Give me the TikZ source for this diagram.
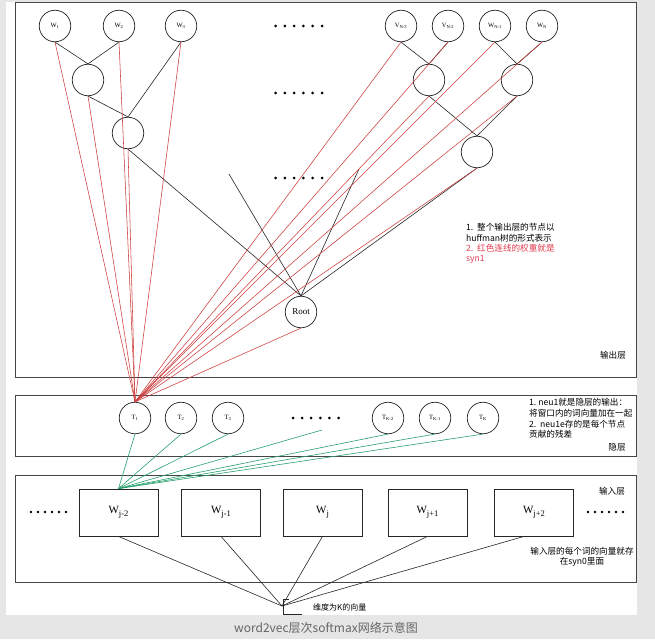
\documentclass[tikz,border=0pt]{standalone}
\usepackage{fontspec}
\setmainfont{Liberation Serif}
\newfontfamily\cjk{Noto Sans CJK SC}
\definecolor{redline}{RGB}{205,60,60}
\definecolor{greenline}{RGB}{40,160,110}
\definecolor{boxline}{RGB}{70,70,70}
\definecolor{redtext}{RGB}{225,60,80}
\definecolor{bgc}{RGB}{230,230,230}
\definecolor{capc}{RGB}{100,100,100}
\begin{document}
\begin{tikzpicture}[x=1pt,y=-1pt,
  nd/.style={circle,draw=black!85,line width=0.7pt,minimum size=31.5pt,inner sep=0pt,font=\fontsize{6.5}{7}\selectfont},
  inbox/.style={draw=black!85,line width=0.8pt,minimum width=79pt,minimum height=47pt,inner sep=0pt,font=\fontsize{11}{12}\selectfont},
  layer/.style={draw=boxline,line width=0.9pt},
  tree/.style={draw=black!85,line width=0.6pt},
  syn/.style={draw=redline,line width=0.55pt},
  hid/.style={draw=greenline,line width=0.6pt},
  ann/.style={font=\cjk\fontsize{8.6}{10.8}\selectfont,align=left,anchor=west,inner sep=0pt},
  lbl/.style={font=\cjk\fontsize{8.6}{10}\selectfont,inner sep=0pt}
]
\useasboundingbox (0,0) rectangle (655,639);
\fill[bgc] (0,0) rectangle (655,639);
\fill[white] (6,2) rectangle (637,615);

% layer boxes
\draw[layer] (15,2) rectangle (636,377);
\draw[layer] (15,395) rectangle (636,456);
\draw[layer] (15,475) rectangle (636,582);

% dots
\foreach \y in {26,93,178} {\foreach \i in {0,...,5} \fill (275.5+9.3*\i,\y) circle (1.5);}
\foreach \i in {0,...,5} \fill (293+9.1*\i,418) circle (1.5);
\foreach \i in {0,...,5} \fill (31+7*\i,512) circle (1.3);
\foreach \i in {0,...,5} \fill (588+7*\i,512) circle (1.3);

% output layer nodes
\node[nd] (W1) at (55,26) {W\textsubscript{1}};
\node[nd] (W2) at (119,26) {W\textsubscript{2}};
\node[nd] (W3) at (181,26) {W\textsubscript{3}};
\node[nd] (VN3) at (401,26) {V\textsubscript{N-3}};
\node[nd] (VN2) at (448,26) {V\textsubscript{N-2}};
\node[nd] (WN1) at (495,26) {W\textsubscript{N-1}};
\node[nd] (WN) at (542,26) {W\textsubscript{N}};
\node[nd] (A) at (88,80) {};
\node[nd] (B) at (128,133) {};
\node[nd] (C1) at (429,80) {};
\node[nd] (C2) at (517,80) {};
\node[nd] (C3) at (477,152) {};
\node[nd,font=\fontsize{9}{10}\selectfont] (Root) at (301,312) {Root};

% hidden layer nodes
\node[nd] (T1) at (135,418) {T\textsubscript{1}};
\node[nd] (T2) at (181,418) {T\textsubscript{2}};
\node[nd] (T3) at (228,418) {T\textsubscript{3}};
\node[nd] (TK2) at (388,418) {T\textsubscript{K-2}};
\node[nd] (TK1) at (435,418) {T\textsubscript{K-1}};
\node[nd] (TK) at (483,418) {T\textsubscript{K}};

% input boxes
\node[inbox] (Wm2) at (118.5,512.5) {W\raisebox{-3pt}{\fontsize{8.5}{9}\selectfont j-2}};
\node[inbox] (Wm1) at (221,512.5) {W\raisebox{-3pt}{\fontsize{8.5}{9}\selectfont j-1}};
\node[inbox] (W0) at (322.5,512.5) {W\raisebox{-3pt}{\fontsize{8.5}{9}\selectfont j}};
\node[inbox] (Wp1) at (427.5,512.5) {W\raisebox{-3pt}{\fontsize{8.5}{9}\selectfont j+1}};
\node[inbox] (Wp2) at (534,512.5) {W\raisebox{-3pt}{\fontsize{8.5}{9}\selectfont j+2}};

% coordinates
\coordinate (e1) at (229,174);
\coordinate (e2) at (359,169);
\coordinate (gd) at (322,430);
\coordinate (vec) at (282,606);

% tree edges
\draw[tree] (W1.south) -- (A.north);
\draw[tree] (W2.south) -- (A.north);
\draw[tree] (A.south) -- (B.north);
\draw[tree] (W3.south) -- (B.north);
\draw[tree] (VN3.south) -- (C1.north);
\draw[tree] (VN2.south) -- (C1.north);
\draw[tree] (WN1.south) -- (C2.north);
\draw[tree] (WN.south) -- (C2.north);
\draw[tree] (C1.south) -- (C3.north);
\draw[tree] (C2.south) -- (C3.north);
\draw[tree] (B.south) -- (Root.north);
\draw[tree] (e1) -- (Root.north);
\draw[tree] (e2) -- (Root.north);
\draw[tree] (C3.south) -- (Root.north);

% syn1 (red) edges
\foreach \n in {W1,A,W2,B,W3,VN3,VN2,WN1,WN,C1,C2,C3,Root}
  \draw[syn] (\n.south) -- (T1.north);

% hidden to input (green)
\foreach \n in {T1,T2,T3,TK2,TK1,TK}
  \draw[hid] (\n.south) -- (Wm2.north);
\draw[hid] (gd) -- (Wm2.north);

% input to vector
\draw[tree] (Wm2.south) -- (vec);
\draw[tree] (Wm1.south) -- (vec);
\draw[tree] (W0.south) -- (vec);
\draw[tree] (Wp1.south) -- (vec);
\draw[tree] ([xshift=-10pt]Wp2.south) -- (vec);
\draw[tree] (289,599) -- (283,599) -- (283,615);
\draw[tree] (283,614) -- (302,614);

% annotations
\node[ann] (a1) at (466,227) {1.\ \ 整个输出层的节点以};
\node[ann] (a2) at (466,238) {huffman树的形式表示};
\node[ann,text=redtext] (a3) at (466,248.5) {2.\ \ 红色连线的权重就是};
\node[ann,text=redtext] (a4) at (466,259.5) {syn1};
\node[lbl] (out) at (613,355) {输出层};

\node[ann] (h1) at (529,402) {1.\ neu1就是隐层的输出：};
\node[ann] (h2) at (529,413) {将窗口内的词向量加在一起};
\node[ann] (h3) at (529,424) {2.\ \ neu1e存的是每个节点};
\node[ann] (h4) at (529,434.5) {贡献的残差};
\node[lbl] (hid) at (617,447) {隐层};

\node[lbl] (inl) at (612,491) {输入层};
\node[lbl,align=center,font=\cjk\fontsize{8.6}{10.5}\selectfont] (intxt) at (582,557) {输入层的每个词的向量就存\\在syn0里面};
\node[ann,font=\cjk\fontsize{8}{9}\selectfont] (vtxt) at (313,607) {维度为K的向量};

\node[font=\cjk\fontsize{12}{13}\selectfont,text=capc,inner sep=0pt] (cap) at (326,628) {word2vec层次softmax网络示意图};
\end{tikzpicture}
\end{document}
